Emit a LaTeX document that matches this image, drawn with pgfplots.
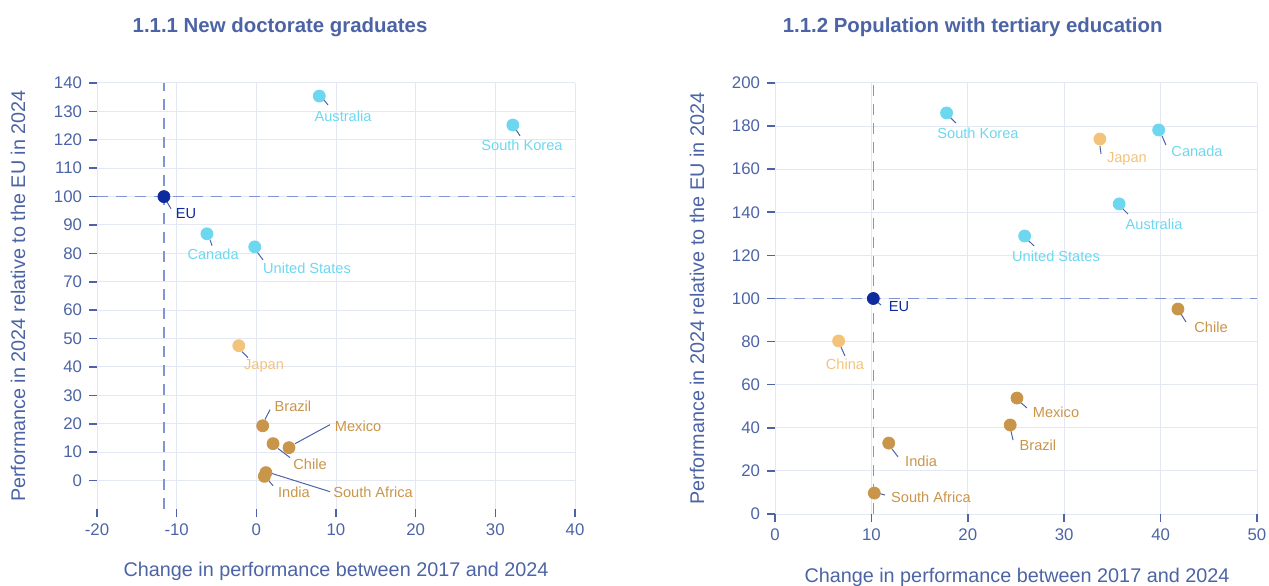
\documentclass[border=0pt]{standalone}
\usepackage{pgfplots}
\pgfplotsset{compat=1.18}
\usepackage{fontspec}
\setmainfont{Liberation Sans}

\definecolor{txt}{HTML}{4C64A6}
\definecolor{cyanpt}{HTML}{6ED7F0}
\definecolor{eupt}{HTML}{0D2A9E}
\definecolor{lorange}{HTML}{F3C37C}
\definecolor{gold}{HTML}{C9954A}
\definecolor{gridc}{HTML}{E4E7F4}
\definecolor{dashc}{HTML}{8394D4}

\tikzset{
  lab/.style={font=\fontsize{7.3bp}{9bp}\selectfont},
  lead/.style={txt, line width=0.5bp},
  refline/.style={dashc, line width=0.8bp, dash pattern=on 5.5bp off 4bp},
}
\pgfplotsset{
  eisstyle/.style={
    scale only axis,
    axis line style={draw=none},
    grid=major,
    major grid style={gridc, line width=0.5bp},
    tick align=outside,
    xtick pos=bottom, ytick pos=left,
    major tick length=4bp,
    tick style={txt, line width=0.8bp},
    tick label style={font=\fontsize{8.4bp}{10bp}\selectfont, text=txt},
    /pgf/number format/assume math mode=true,
    label style={font=\fontsize{9.9bp}{12bp}\selectfont, text=txt},
    title style={font=\fontsize{10.2bp}{12bp}\selectfont\bfseries, text=txt, anchor=center},
    xlabel={Change in performance between 2017 and 2024},
    ylabel={Performance in 2024 relative to the EU in 2024},
    clip=false,
  },
  ptmark/.style={only marks, mark=*, mark size=3bp, mark options={draw=#1, fill=#1}},
}

\begin{document}
\begin{tikzpicture}
\path[use as bounding box] (0,0) rectangle (634.5bp,293bp);

% 1.1.1 New doctorate graduates
\begin{axis}[eisstyle,
  at={(48.5bp,38.5bp)}, anchor=south west,
  width=239bp, height=213bp,
  xmin=-20, xmax=40, ymin=-10, ymax=140,
  xtick={-20,-10,...,40}, ytick={0,10,...,140},
  title={1.1.1 New doctorate graduates},
  title style={at={(axis description cs:0.383,1)}, yshift=22bp},
  xlabel style={at={(axis description cs:0.5,-0.146)}, anchor=center},
  ylabel style={at={(axis description cs:-0.165,0.5)}, anchor=center},
]
\draw[refline] (axis cs:-11.6,-10) -- (axis cs:-11.6,140);
\draw[refline] (axis cs:-20,100) -- (axis cs:40,100);
\addplot[ptmark=cyanpt] coordinates {(7.9,135.4) (32.2,125.2) (-6.2,86.9) (-0.2,82.3)};
\addplot[ptmark=lorange] coordinates {(-2.2,47.5)};
\addplot[ptmark=gold] coordinates {(0.8,19.3) (2.1,13.0) (4.1,11.6) (1.2,2.8) (1.0,1.5)};
\addplot[ptmark=eupt] coordinates {(-11.6,100)};
% leader lines
\draw[lead] (axis cs:8.37,134.4) -- (axis cs:8.99,132.3);
\draw[lead] (axis cs:32.6,123.5) -- (axis cs:33.1,121.4);
\draw[lead] (axis cs:-11.21,98.1) -- (axis cs:-10.71,95.7);
\draw[lead] (axis cs:-5.81,84.8) -- (axis cs:-5.56,82.7);
\draw[lead] (axis cs:0.09,80.5) -- (axis cs:0.84,77.7);
\draw[lead] (axis cs:-1.79,45.4) -- (axis cs:-1.04,43.3);
\draw[lead] (axis cs:1.09,21.5) -- (axis cs:1.72,25.0);
\draw[lead] (axis cs:4.86,13.0) -- (axis cs:9.25,19.7);
\draw[lead] (axis cs:2.72,11.3) -- (axis cs:4.23,8.1);
\draw[lead] (axis cs:1.97,2.5) -- (axis cs:9.25,-3.9);
\draw[lead] (axis cs:1.34,0.7) -- (axis cs:2.1,-1.8);
% labels
\node[lab, text=cyanpt] at (axis cs:10.88,128.4) {Australia};
\node[lab, text=cyanpt] at (axis cs:33.35,118.2) {South Korea};
\node[lab, text=eupt] at (axis cs:-8.82,93.9) {EU};
\node[lab, text=cyanpt] at (axis cs:-5.43,79.8) {Canada};
\node[lab, text=cyanpt] at (axis cs:6.36,74.9) {United States};
\node[lab, text=lorange] at (axis cs:0.97,40.4) {Japan};
\node[lab, text=gold] at (axis cs:4.6,26.0) {Brazil};
\node[lab, text=gold] at (axis cs:12.77,19.3) {Mexico};
\node[lab, text=gold] at (axis cs:6.74,5.6) {Chile};
\node[lab, text=gold] at (axis cs:14.65,-4.2) {South Africa};
\node[lab, text=gold] at (axis cs:4.73,-4.2) {India};
\end{axis}

% 1.1.2 Population with tertiary education
\begin{axis}[eisstyle,
  at={(387.5bp,36bp)}, anchor=south west,
  width=241bp, height=215.5bp,
  xmin=0, xmax=50, ymin=0, ymax=200,
  xtick={0,10,...,50}, ytick={0,20,...,200},
  title={1.1.2 Population with tertiary education},
  title style={at={(axis description cs:0.41,1)}, yshift=22bp},
  xlabel style={at={(axis description cs:0.502,-0.146)}, anchor=center},
  ylabel style={at={(axis description cs:-0.162,0.5)}, anchor=center},
]
\draw[refline] (axis cs:10.2,0) -- (axis cs:10.2,200);
\draw[refline] (axis cs:0,100) -- (axis cs:50,100);
\addplot[ptmark=cyanpt] coordinates {(17.8,186.1) (39.8,178.2) (35.7,143.9) (25.9,129.0)};
\addplot[ptmark=lorange] coordinates {(33.7,174.0) (6.6,80.3)};
\addplot[ptmark=gold] coordinates {(41.8,95.1) (25.1,53.8) (24.4,41.3) (11.8,32.9) (10.3,9.7)};
\addplot[ptmark=eupt] coordinates {(10.2,100)};
% leader lines
\draw[lead] (axis cs:18.15,184.2) -- (axis cs:18.78,181.4);
\draw[lead] (axis cs:33.71,170.8) -- (axis cs:33.82,167.1);
\draw[lead] (axis cs:40.15,175.4) -- (axis cs:40.56,171.2);
\draw[lead] (axis cs:36.0,142.0) -- (axis cs:36.62,139.2);
\draw[lead] (axis cs:26.24,127.1) -- (axis cs:26.87,124.4);
\draw[lead] (axis cs:10.48,98.8) -- (axis cs:11.0,97.0);
\draw[lead] (axis cs:42.12,92.8) -- (axis cs:42.63,89.1);
\draw[lead] (axis cs:6.85,77.5) -- (axis cs:7.26,73.3);
\draw[lead] (axis cs:25.41,52.0) -- (axis cs:26.14,49.2);
\draw[lead] (axis cs:24.48,38.5) -- (axis cs:24.69,34.3);
\draw[lead] (axis cs:12.14,30.2) -- (axis cs:12.76,26.5);
\draw[lead] (axis cs:10.68,9.7) -- (axis cs:11.41,8.8);
% labels
\node[lab, text=cyanpt] at (axis cs:21.06,176.8) {South Korea};
\node[lab, text=lorange] at (axis cs:36.51,164.7) {Japan};
\node[lab, text=cyanpt] at (axis cs:43.78,168.4) {Canada};
\node[lab, text=cyanpt] at (axis cs:39.32,134.6) {Australia};
\node[lab, text=cyanpt] at (axis cs:29.15,119.7) {United States};
\node[lab, text=eupt] at (axis cs:12.86,96.1) {EU};
\node[lab, text=gold] at (axis cs:45.23,86.8) {Chile};
\node[lab, text=lorange] at (axis cs:7.26,69.6) {China};
\node[lab, text=gold] at (axis cs:29.15,47.3) {Mexico};
\node[lab, text=gold] at (axis cs:27.28,32.0) {Brazil};
\node[lab, text=gold] at (axis cs:15.15,24.6) {India};
\node[lab, text=gold] at (axis cs:16.18,7.9) {South Africa};
\end{axis}
\end{tikzpicture}
\end{document}
